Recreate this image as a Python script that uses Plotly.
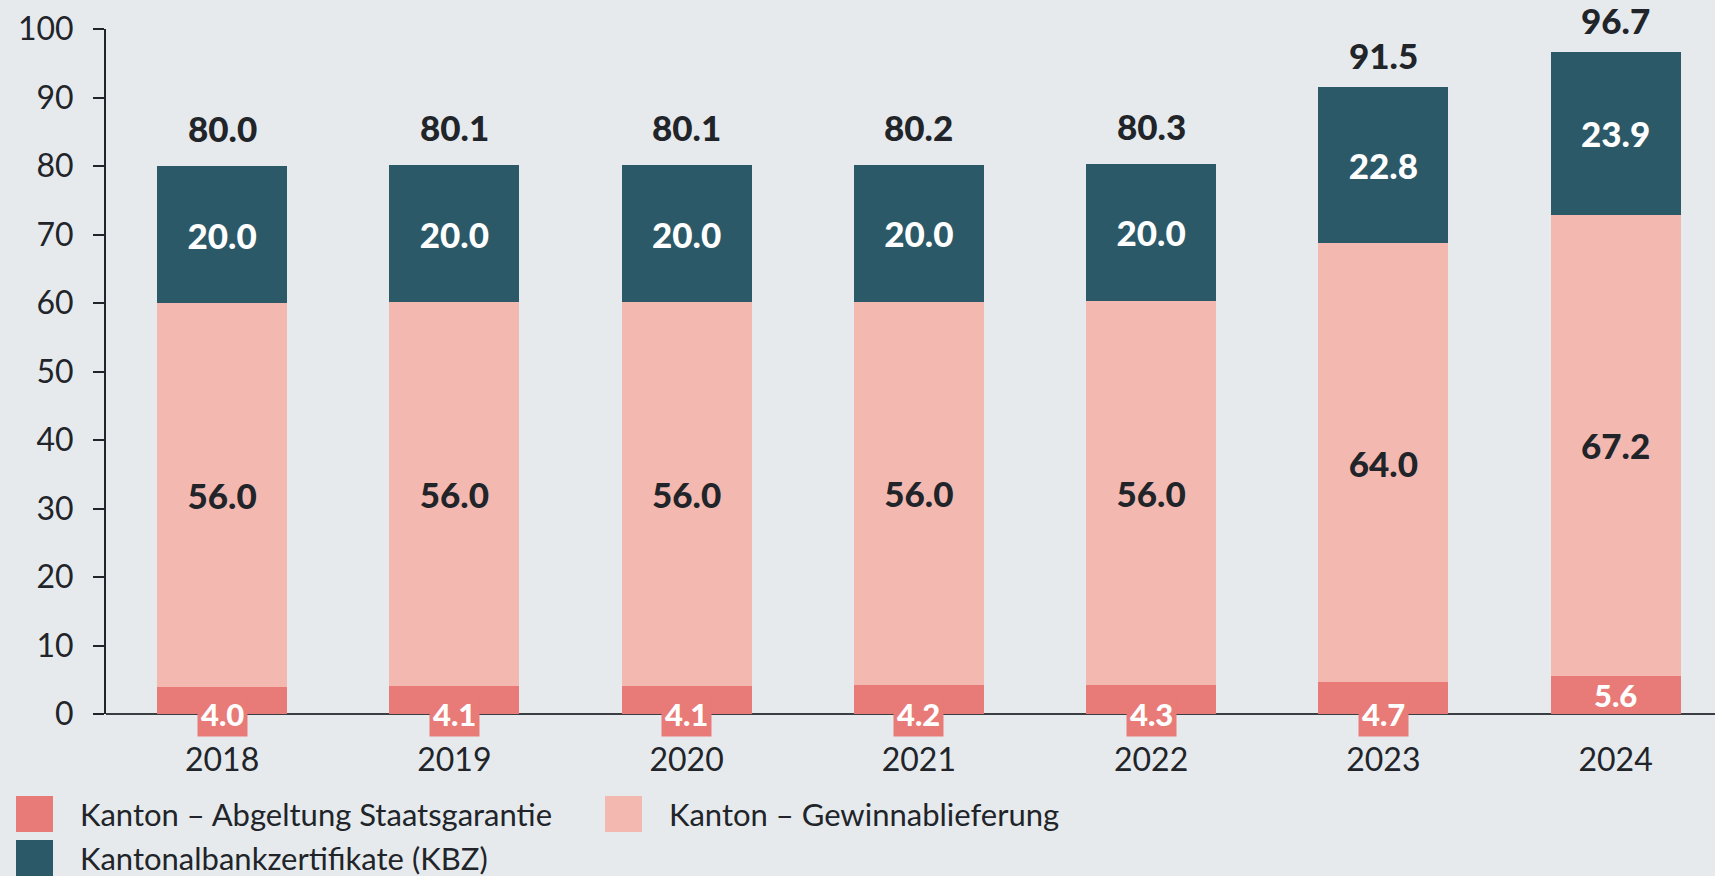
import plotly.graph_objects as go

years = ["2018", "2019", "2020", "2021", "2022", "2023", "2024"]
staatsgarantie = [4.0, 4.1, 4.1, 4.2, 4.3, 4.7, 5.6]
gewinn = [56.0, 56.0, 56.0, 56.0, 56.0, 64.0, 67.2]
kbz = [20.0, 20.0, 20.0, 20.0, 20.0, 22.8, 23.9]
totals = [80.0, 80.1, 80.1, 80.2, 80.3, 91.5, 96.7]
series_names = ["Kanton – Abgeltung Staatsgarantie", "Kanton – Gewinnablieferung",
                "Kantonalbankzertifikate (KBZ)"]

C_SALMON = "#E87B77"
C_PINK = "#F3B9B1"
C_TEAL = "#2C5968"
BG = "#E6EAED"
DARK = "#212429"
FONT = "Lato, 'Open Sans', sans-serif"

W, H = 1715, 876
ML, MR, MT, MB = 106, 0, 29, 162
PW, PH = W - ML - MR, H - MT - MB

fig = go.Figure()
fig.add_bar(x=years, y=staatsgarantie, name=series_names[0], marker_color=C_SALMON,
            marker_line_width=0, showlegend=False)
fig.add_bar(x=years, y=gewinn, name=series_names[1], marker_color=C_PINK,
            marker_line_width=0, showlegend=False,
            text=[f"{v:.1f}" for v in gewinn], textposition="inside",
            insidetextanchor="middle",
            textfont=dict(family=FONT, size=35, color=DARK, weight=900))
fig.add_bar(x=years, y=kbz, name=series_names[2], marker_color=C_TEAL,
            marker_line_width=0, showlegend=False,
            text=[f"{v:.1f}" for v in kbz], textposition="inside",
            insidetextanchor="middle",
            textfont=dict(family=FONT, size=35, color="white", weight=900))

annotations = []
for i, t in enumerate(totals):
    # keep the total label inside the chart area near the top
    shift = 38 if t < 90 else 32
    annotations.append(dict(x=i, y=t, xref="x", yref="y", text=f"{t:.1f}",
                            showarrow=False, yanchor="middle", yshift=shift,
                            font=dict(family=FONT, size=35, color=DARK, weight=900)))
for i, v in enumerate(staatsgarantie):
    small = v < 5
    annotations.append(dict(x=i, y=0 if small else v / 2, xref="x", yref="y",
                            text=f"{v:.1f}", showarrow=False, yanchor="middle", yshift=0,
                            bgcolor=C_SALMON if small else "rgba(0,0,0,0)", borderpad=3,
                            font=dict(family=FONT, size=31, color="white", weight=900)))


def px_x(px):
    return (px - ML) / PW


def px_y(py):
    return (H - MB - py) / PH


shapes = []
legend_items = [
    (series_names[0], C_SALMON, 16, 814),
    (series_names[1], C_PINK, 605, 814),
    (series_names[2], C_TEAL, 16, 858),
]
for name, col, lx, cy in legend_items:
    shapes.append(dict(type="rect", xref="paper", yref="paper",
                       x0=px_x(lx), x1=px_x(lx + 37), y0=px_y(cy + 18), y1=px_y(cy - 18),
                       fillcolor=col, line_width=0))
    annotations.append(dict(x=px_x(lx + 62), y=px_y(cy), xref="paper", yref="paper",
                            text=name, showarrow=False, xanchor="left", yanchor="middle",
                            font=dict(family=FONT, size=31, color=DARK)))

fig.update_layout(
    width=W, height=H,
    margin=dict(l=ML, r=MR, t=MT, b=MB, pad=0),
    barmode="stack", bargap=0.44,
    paper_bgcolor=BG, plot_bgcolor=BG,
    font=dict(family=FONT, color=DARK),
    annotations=annotations, shapes=shapes,
    uniformtext=dict(mode="show", minsize=10),
)
fig.update_xaxes(type="category", range=[-0.5, 6.428], showgrid=False, zeroline=False,
                 showline=False, ticks="", tickfont=dict(size=32, color=DARK),
                 ticklabelstandoff=24)
fig.update_yaxes(range=[0, 100], dtick=10, showgrid=False, zeroline=True,
                 zerolinecolor="#3A3D42", zerolinewidth=2,
                 showline=True, linecolor=DARK, linewidth=2,
                 ticks="outside", ticklen=11, tickwidth=2, tickcolor=DARK,
                 tickfont=dict(size=32, color=DARK), ticklabelstandoff=13)

fig.write_html("out.html", config={"displayModeBar": False},
               post_script="document.body.style.margin='0';document.body.style.overflow='hidden';")
